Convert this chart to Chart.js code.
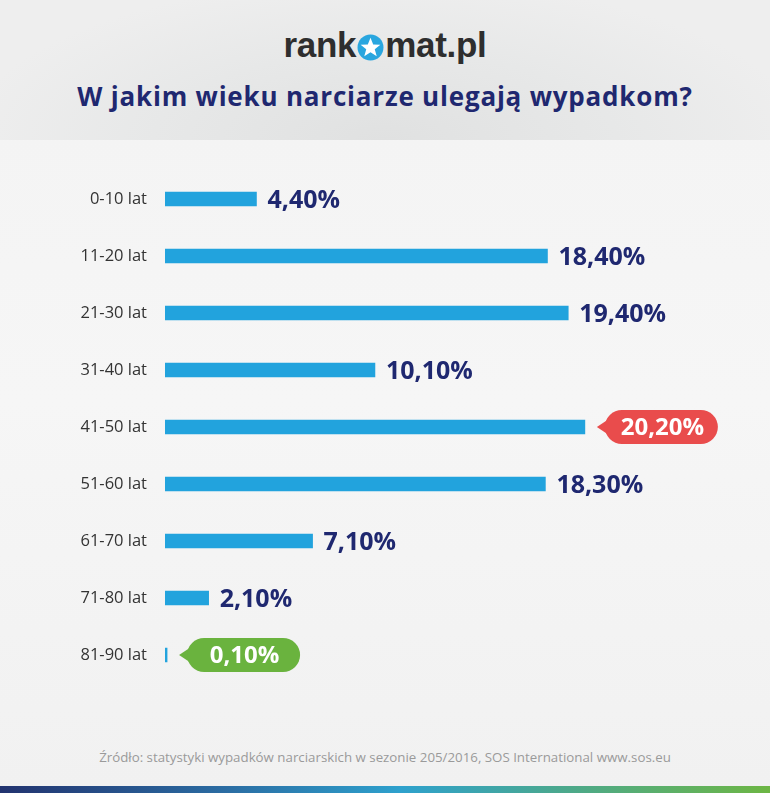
<!DOCTYPE html>
<html><head><meta charset="utf-8">
<script src="https://cdn.jsdelivr.net/npm/chart.js@4"></script>
<style>
html,body{margin:0;padding:0;}
body{width:770px;height:793px;position:relative;overflow:hidden;font-family:'Open Sans',sans-serif;
 background:linear-gradient(#f3f3f3 0px,#f6f6f6 400px,#f1f1f1 785px);}
#hdr{position:absolute;left:0;top:0;width:770px;height:140px;
 background:radial-gradient(ellipse 420px 160px at 50% 100%,#e0e1e1 0%,#e7e8e8 55%,#eeeeee 100%);}
#logo{position:absolute;left:0;width:770px;top:25px;text-align:center;font-family:'Liberation Sans',Arial,sans-serif;font-weight:bold;font-size:35px;color:#2e2e2e;letter-spacing:-0.3px;line-height:40px;}
#logo svg{vertical-align:-4px;margin:0 1px;}
#title{position:absolute;left:0;width:770px;top:79px;text-align:center;font-weight:bold;font-size:26px;letter-spacing:0.8px;color:#1f2870;line-height:34px;}
#src{position:absolute;left:0;width:770px;top:748px;text-align:center;font-size:13.3px;color:#9a9a9a;}
#strip{position:absolute;left:0;top:786px;width:770px;height:7px;background:linear-gradient(90deg,#22336f 0%,#2b6ea4 30%,#2ea1cd 52%,#4aa890 72%,#6db644 100%);}
canvas{position:absolute;left:0;top:0;}
</style></head>
<body>
<div id="hdr"></div>
<div id="logo">rank<svg width="27" height="27" viewBox="0 0 26 26"><circle cx="13" cy="13" r="12.5" fill="#29a6df"/><polygon fill="#fff" points="13,3.5 15.6,10 22.5,10.3 17.1,14.7 19,21.5 13,17.6 7,21.5 8.9,14.7 3.5,10.3 10.4,10"/></svg>mat.pl</div>
<div id="title">W jakim wieku narciarze ulegają wypadkom?</div>
<div id="src">Źródło: statystyki wypadków narciarskich w sezonie 205/2016, SOS International www.sos.eu</div>
<div id="strip"></div>
<canvas id="c" width="770" height="793"></canvas>
<script>
const categories = ['0-10 lat','11-20 lat','21-30 lat','31-40 lat','41-50 lat','51-60 lat','61-70 lat','71-80 lat','81-90 lat'];
const shares = [4.4, 18.4, 19.4, 10.1, 20.2, 18.3, 7.1, 2.1, 0.1];
const valueLabels = ['4,40%','18,40%','19,40%','10,10%','20,20%','18,30%','7,10%','2,10%','0,10%'];

const maxIdx = shares.indexOf(Math.max(...shares));
const minIdx = shares.indexOf(Math.min(...shares));

const labelPlugin = {
  id: 'valueLabels',
  afterDatasetsDraw(chart) {
    const ctx = chart.ctx;
    const meta = chart.getDatasetMeta(0);
    ctx.save();
    ctx.textBaseline = 'middle';
    meta.data.forEach((bar, i) => {
      const x = bar.x, y = bar.y;
      const txt = valueLabels[i];
      if (i === maxIdx || i === minIdx) {
        const col = i === maxIdx ? '#e94c4c' : '#6ab33e';
        const bx = x + 20, w = 113, h = 34, r = 17;
        ctx.fillStyle = col;
        ctx.beginPath();
        ctx.moveTo(bx - 8, y);
        ctx.lineTo(bx + 4, y - 8);
        ctx.lineTo(bx + 4, y + 8);
        ctx.closePath();
        ctx.fill();
        ctx.beginPath();
        ctx.roundRect(bx, y - h / 2, w, h, r);
        ctx.fill();
        ctx.font = "bold 24px 'Open Sans', sans-serif";
        ctx.fillStyle = '#ffffff';
        ctx.textAlign = 'center';
        ctx.fillText(txt, bx + w / 2 + 1, y + 1);
      } else {
        ctx.font = "bold 25px 'Open Sans', sans-serif";
        ctx.fillStyle = '#1f2870';
        ctx.textAlign = 'left';
        ctx.fillText(txt, x + 11, y + 2);
      }
    });
    ctx.restore();
  }
};

new Chart(document.getElementById('c'), {
  type: 'bar',
  data: {
    labels: categories,
    datasets: [{
      data: shares,
      backgroundColor: '#22a3dd',
      borderWidth: 0,
      barThickness: 14
    }]
  },
  options: {
    indexAxis: 'y',
    responsive: false,
    animation: false,
    layout: { padding: { top: 170.5, bottom: 109.5, left: 0, right: 23 } },
    plugins: { legend: { display: false }, tooltip: { enabled: false } },
    scales: {
      x: { display: false, min: 0, max: 28 },
      y: {
        grid: { display: false, drawTicks: false },
        border: { display: false },
        ticks: { padding: 18, color: '#333333', font: { family: "'Open Sans', sans-serif", size: 16.5 } },
        afterFit(scale) { scale.width = 165; }
      }
    }
  },
  plugins: [labelPlugin]
});
</script>
</body></html>
